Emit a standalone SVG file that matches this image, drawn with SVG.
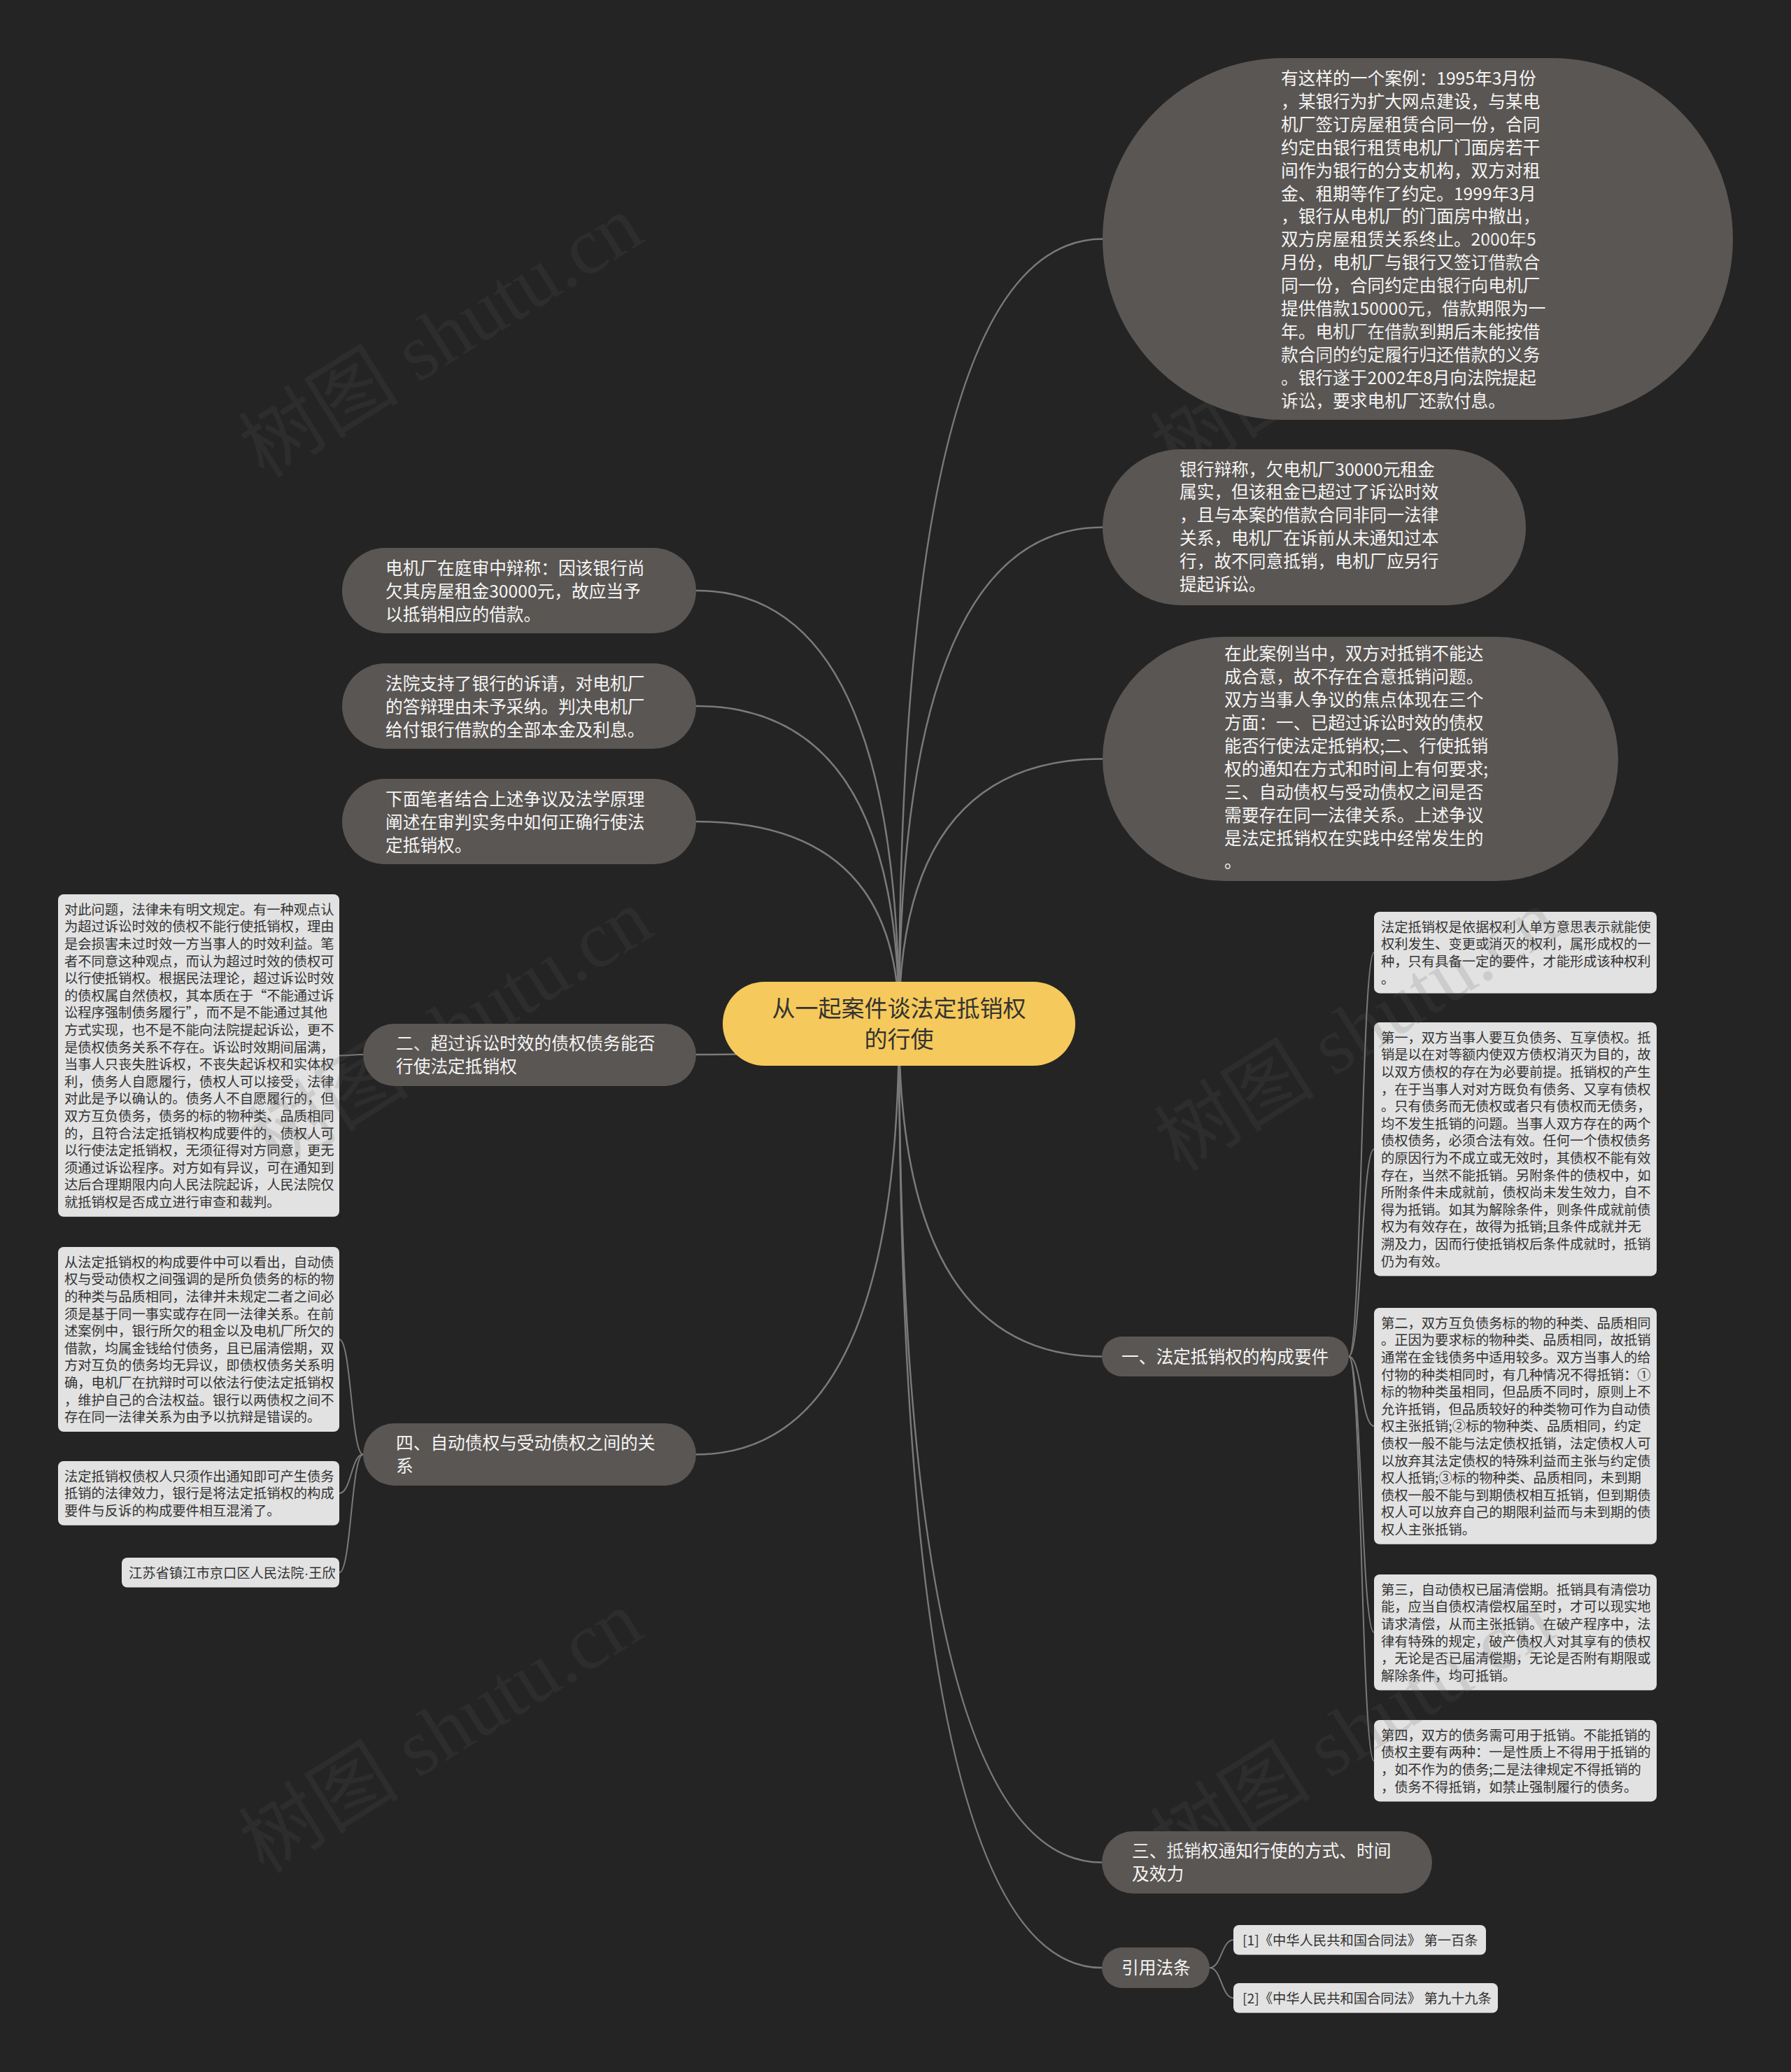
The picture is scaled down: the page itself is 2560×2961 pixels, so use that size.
<svg xmlns="http://www.w3.org/2000/svg" width="2560" height="2961" viewBox="0 0 2560 2961">
<style>
.n{fill:#5a5653}
.nt{font-family:"Noto Sans CJK SC","Noto Sans",sans-serif;font-size:24.7px;fill:#f5f5f5}
.b{fill:#e2e2e2}
.bt{font-family:"Noto Sans CJK SC","Noto Sans",sans-serif;font-size:19.3px;fill:#333333}
.c{fill:none;stroke:#7a7a7a;stroke-width:2.5}
.s{fill:none;stroke:#7a7a7a;stroke-width:2}
.wm{font-family:"Liberation Serif","Noto Sans CJK SC",serif;font-size:115px;fill:#5c5c5c;opacity:0.16}
</style>
<rect x="0" y="0" width="2560" height="2961" fill="#242424"/>
<g id="connectors">
<path class="c" d="M1285,1463 Q1285,341.5 1576,341.5"/>
<path class="c" d="M1285,1463 Q1285,753.5 1576,753.5"/>
<path class="c" d="M1285,1463 Q1285,1084.5 1576,1084.5"/>
<path class="c" d="M1285,1463 Q1285,844 995,844"/>
<path class="c" d="M1285,1463 Q1285,1009 995,1009"/>
<path class="c" d="M1285,1463 Q1285,1174 995,1174"/>
<path class="c" d="M1285,1463 Q1285,1507 995,1507"/>
<path class="c" d="M1285,1463 Q1285,2078.5 995,2078.5"/>
<path class="c" d="M1285,1463 Q1285,1938.5 1575,1938.5"/>
<path class="c" d="M1285,1463 Q1285,2661.5 1575,2661.5"/>
<path class="c" d="M1285,1463 Q1285,2812 1575,2812"/>
<path class="s" d="M519,1507 C502,1507 502,1508.4 485,1508.4"/>
<path class="s" d="M519,2078.5 C502,2078.5 502,1914 485,1914"/>
<path class="s" d="M519,2078.5 C502,2078.5 502,2134 485,2134"/>
<path class="s" d="M519,2078.5 C502,2078.5 502,2247.3 485,2247.3"/>
<path class="s" d="M1928,1938.5 C1946,1938.5 1946,1361.2 1964,1361.2"/>
<path class="s" d="M1928,1938.5 C1946,1938.5 1946,1642.2 1964,1642.2"/>
<path class="s" d="M1928,1938.5 C1946,1938.5 1946,2037.9 1964,2037.9"/>
<path class="s" d="M1928,1938.5 C1946,1938.5 1946,2332.8 1964,2332.8"/>
<path class="s" d="M1928,1938.5 C1946,1938.5 1946,2516.2 1964,2516.2"/>
<path class="s" d="M1729,2812 C1746,2812 1746,2772.3 1763,2772.3"/>
<path class="s" d="M1729,2812 C1746,2812 1746,2855.3 1763,2855.3"/>
</g>
<g id="center">
<rect x="1033" y="1403" width="504" height="120" rx="60" fill="#f5c95b"/>
<text font-family="Noto Sans CJK SC, Noto Sans, sans-serif" font-size="33" fill="#333333" text-anchor="middle"><tspan x="1285" y="1452.5">从一起案件谈法定抵销权</tspan><tspan x="1285" y="1497">的行使</tspan></text>
</g>
<g id="case">
<rect class="n" x="1576" y="83" width="901" height="517" rx="258.5"/>
<text class="nt"><tspan x="1831" y="121">有这样的一个案例：1995年3月份</tspan><tspan x="1831" y="153.9">，某银行为扩大网点建设，与某电</tspan><tspan x="1831" y="186.8">机厂签订房屋租赁合同一份，合同</tspan><tspan x="1831" y="219.7">约定由银行租赁电机厂门面房若干</tspan><tspan x="1831" y="252.6">间作为银行的分支机构，双方对租</tspan><tspan x="1831" y="285.5">金、租期等作了约定。1999年3月</tspan><tspan x="1831" y="318.4">，银行从电机厂的门面房中撤出，</tspan><tspan x="1831" y="351.3">双方房屋租赁关系终止。2000年5</tspan><tspan x="1831" y="384.2">月份，电机厂与银行又签订借款合</tspan><tspan x="1831" y="417.1">同一份，合同约定由银行向电机厂</tspan><tspan x="1831" y="450">提供借款150000元，借款期限为一</tspan><tspan x="1831" y="482.9">年。电机厂在借款到期后未能按借</tspan><tspan x="1831" y="515.8">款合同的约定履行归还借款的义务</tspan><tspan x="1831" y="548.7">。银行遂于2002年8月向法院提起</tspan><tspan x="1831" y="581.6">诉讼，要求电机厂还款付息。</tspan></text>
</g>
<g id="bank">
<rect class="n" x="1576" y="642" width="605" height="223" rx="111.5"/>
<text class="nt"><tspan x="1686" y="679.5">银行辩称，欠电机厂30000元租金</tspan><tspan x="1686" y="712.4">属实，但该租金已超过了诉讼时效</tspan><tspan x="1686" y="745.3">，且与本案的借款合同非同一法律</tspan><tspan x="1686" y="778.2">关系，电机厂在诉前从未通知过本</tspan><tspan x="1686" y="811.1">行，故不同意抵销，电机厂应另行</tspan><tspan x="1686" y="844">提起诉讼。</tspan></text>
</g>
<g id="focus">
<rect class="n" x="1576" y="910" width="737" height="349" rx="174.5"/>
<text class="nt"><tspan x="1750" y="942.5">在此案例当中，双方对抵销不能达</tspan><tspan x="1750" y="975.6">成合意，故不存在合意抵销问题。</tspan><tspan x="1750" y="1008.7">双方当事人争议的焦点体现在三个</tspan><tspan x="1750" y="1041.8">方面：一、已超过诉讼时效的债权</tspan><tspan x="1750" y="1074.9">能否行使法定抵销权;二、行使抵销</tspan><tspan x="1750" y="1108">权的通知在方式和时间上有何要求;</tspan><tspan x="1750" y="1141.1">三、自动债权与受动债权之间是否</tspan><tspan x="1750" y="1174.2">需要存在同一法律关系。上述争议</tspan><tspan x="1750" y="1207.3">是法定抵销权在实践中经常发生的</tspan><tspan x="1750" y="1240.4">。</tspan></text>
</g>
<g id="factory">
<rect class="n" x="489" y="783" width="506" height="122" rx="61"/>
<text class="nt"><tspan x="551" y="820.5">电机厂在庭审中辩称：因该银行尚</tspan><tspan x="551" y="853.5">欠其房屋租金30000元，故应当予</tspan><tspan x="551" y="886.5">以抵销相应的借款。</tspan></text>
</g>
<g id="court">
<rect class="n" x="489" y="948" width="506" height="122" rx="61"/>
<text class="nt"><tspan x="551" y="985.6">法院支持了银行的诉请，对电机厂</tspan><tspan x="551" y="1018.6">的答辩理由未予采纳。判决电机厂</tspan><tspan x="551" y="1051.6">给付银行借款的全部本金及利息。</tspan></text>
</g>
<g id="author">
<rect class="n" x="489" y="1113" width="506" height="122" rx="61"/>
<text class="nt"><tspan x="551" y="1150.6">下面笔者结合上述争议及法学原理</tspan><tspan x="551" y="1183.6">阐述在审判实务中如何正确行使法</tspan><tspan x="551" y="1216.6">定抵销权。</tspan></text>
</g>
<g id="sec2">
<rect class="n" x="519" y="1463" width="476" height="89" rx="44.5"/>
<text class="nt"><tspan x="566" y="1500">二、超过诉讼时效的债权债务能否</tspan><tspan x="566" y="1533">行使法定抵销权</tspan></text>
</g>
<g id="sec2-text">
<rect class="b" x="83" y="1278" width="402" height="460.8" rx="8"/>
<text class="bt"><tspan x="92" y="1306.7">对此问题，法律未有明文规定。有一种观点认</tspan><tspan x="92" y="1331.3">为超过诉讼时效的债权不能行使抵销权，理由</tspan><tspan x="92" y="1355.9">是会损害未过时效一方当事人的时效利益。笔</tspan><tspan x="92" y="1380.5">者不同意这种观点，而认为超过时效的债权可</tspan><tspan x="92" y="1405.1">以行使抵销权。根据民法理论，超过诉讼时效</tspan><tspan x="92" y="1429.7">的债权属自然债权，其本质在于“不能通过诉</tspan><tspan x="92" y="1454.3">讼程序强制债务履行”，而不是不能通过其他</tspan><tspan x="92" y="1478.9">方式实现，也不是不能向法院提起诉讼，更不</tspan><tspan x="92" y="1503.5">是债权债务关系不存在。诉讼时效期间届满，</tspan><tspan x="92" y="1528.1">当事人只丧失胜诉权，不丧失起诉权和实体权</tspan><tspan x="92" y="1552.7">利，债务人自愿履行，债权人可以接受，法律</tspan><tspan x="92" y="1577.3">对此是予以确认的。债务人不自愿履行的，但</tspan><tspan x="92" y="1601.9">双方互负债务，债务的标的物种类、品质相同</tspan><tspan x="92" y="1626.5">的，且符合法定抵销权构成要件的，债权人可</tspan><tspan x="92" y="1651.1">以行使法定抵销权，无须征得对方同意，更无</tspan><tspan x="92" y="1675.7">须通过诉讼程序。对方如有异议，可在通知到</tspan><tspan x="92" y="1700.3">达后合理期限内向人民法院起诉，人民法院仅</tspan><tspan x="92" y="1724.9">就抵销权是否成立进行审查和裁判。</tspan></text>
</g>
<g id="sec4">
<rect class="n" x="519" y="2034" width="476" height="89" rx="44.5"/>
<text class="nt"><tspan x="566" y="2071">四、自动债权与受动债权之间的关</tspan><tspan x="566" y="2104">系</tspan></text>
</g>
<g id="sec4-text1">
<rect class="b" x="83" y="1782" width="402" height="264" rx="8"/>
<text class="bt"><tspan x="92" y="1810.7">从法定抵销权的构成要件中可以看出，自动债</tspan><tspan x="92" y="1835.3">权与受动债权之间强调的是所负债务的标的物</tspan><tspan x="92" y="1859.9">的种类与品质相同，法律并未规定二者之间必</tspan><tspan x="92" y="1884.5">须是基于同一事实或存在同一法律关系。在前</tspan><tspan x="92" y="1909.1">述案例中，银行所欠的租金以及电机厂所欠的</tspan><tspan x="92" y="1933.7">借款，均属金钱给付债务，且已届清偿期，双</tspan><tspan x="92" y="1958.3">方对互负的债务均无异议，即债权债务关系明</tspan><tspan x="92" y="1982.9">确，电机厂在抗辩时可以依法行使法定抵销权</tspan><tspan x="92" y="2007.5">，维护自己的合法权益。银行以两债权之间不</tspan><tspan x="92" y="2032.1">存在同一法律关系为由予以抗辩是错误的。</tspan></text>
</g>
<g id="sec4-text2">
<rect class="b" x="83" y="2088" width="402" height="91.8" rx="8"/>
<text class="bt"><tspan x="92" y="2116.7">法定抵销权债权人只须作出通知即可产生债务</tspan><tspan x="92" y="2141.3">抵销的法律效力，银行是将法定抵销权的构成</tspan><tspan x="92" y="2165.9">要件与反诉的构成要件相互混淆了。</tspan></text>
</g>
<g id="sec4-author">
<rect class="b" x="174" y="2226" width="311" height="42.6" rx="8"/>
<text class="bt" x="184" y="2254.7">江苏省镇江市京口区人民法院<tspan font-family="Liberation Sans, sans-serif">·</tspan>王欣</text>
</g>
<g id="sec1">
<rect class="n" x="1575" y="1910" width="353" height="57" rx="28.5"/>
<text class="nt"><tspan x="1603" y="1947.5">一、法定抵销权的构成要件</tspan></text>
</g>
<g id="sec1-def">
<rect class="b" x="1964" y="1303" width="404" height="116.4" rx="8"/>
<text class="bt"><tspan x="1974" y="1331.7">法定抵销权是依据权利人单方意思表示就能使</tspan><tspan x="1974" y="1356.3">权利发生、变更或消灭的权利，属形成权的一</tspan><tspan x="1974" y="1380.9">种，只有具备一定的要件，才能形成该种权利</tspan><tspan x="1974" y="1405.5">。</tspan></text>
</g>
<g id="sec1-first">
<rect class="b" x="1964" y="1461" width="404" height="362.4" rx="8"/>
<text class="bt"><tspan x="1974" y="1489.7">第一，双方当事人要互负债务、互享债权。抵</tspan><tspan x="1974" y="1514.3">销是以在对等额内使双方债权消灭为目的，故</tspan><tspan x="1974" y="1538.9">以双方债权的存在为必要前提。抵销权的产生</tspan><tspan x="1974" y="1563.5">，在于当事人对对方既负有债务、又享有债权</tspan><tspan x="1974" y="1588.1">。只有债务而无债权或者只有债权而无债务，</tspan><tspan x="1974" y="1612.7">均不发生抵销的问题。当事人双方存在的两个</tspan><tspan x="1974" y="1637.3">债权债务，必须合法有效。任何一个债权债务</tspan><tspan x="1974" y="1661.9">的原因行为不成立或无效时，其债权不能有效</tspan><tspan x="1974" y="1686.5">存在，当然不能抵销。另附条件的债权中，如</tspan><tspan x="1974" y="1711.1">所附条件未成就前，债权尚未发生效力，自不</tspan><tspan x="1974" y="1735.7">得为抵销。如其为解除条件，则条件成就前债</tspan><tspan x="1974" y="1760.3">权为有效存在，故得为抵销;且条件成就并无</tspan><tspan x="1974" y="1784.9">溯及力，因而行使抵销权后条件成就时，抵销</tspan><tspan x="1974" y="1809.5">仍为有效。</tspan></text>
</g>
<g id="sec1-second">
<rect class="b" x="1964" y="1869" width="404" height="337.8" rx="8"/>
<text class="bt"><tspan x="1974" y="1897.7">第二，双方互负债务标的物的种类、品质相同</tspan><tspan x="1974" y="1922.3">。正因为要求标的物种类、品质相同，故抵销</tspan><tspan x="1974" y="1946.9">通常在金钱债务中适用较多。双方当事人的给</tspan><tspan x="1974" y="1971.5">付物的种类相同时，有几种情况不得抵销：①</tspan><tspan x="1974" y="1996.1">标的物种类虽相同，但品质不同时，原则上不</tspan><tspan x="1974" y="2020.7">允许抵销，但品质较好的种类物可作为自动债</tspan><tspan x="1974" y="2045.3">权主张抵销;②标的物种类、品质相同，约定</tspan><tspan x="1974" y="2069.9">债权一般不能与法定债权抵销，法定债权人可</tspan><tspan x="1974" y="2094.5">以放弃其法定债权的特殊利益而主张与约定债</tspan><tspan x="1974" y="2119.1">权人抵销;③标的物种类、品质相同，未到期</tspan><tspan x="1974" y="2143.7">债权一般不能与到期债权相互抵销，但到期债</tspan><tspan x="1974" y="2168.3">权人可以放弃自己的期限利益而与未到期的债</tspan><tspan x="1974" y="2192.9">权人主张抵销。</tspan></text>
</g>
<g id="sec1-third">
<rect class="b" x="1964" y="2250" width="404" height="165.6" rx="8"/>
<text class="bt"><tspan x="1974" y="2278.7">第三，自动债权已届清偿期。抵销具有清偿功</tspan><tspan x="1974" y="2303.3">能，应当自债权清偿权届至时，才可以现实地</tspan><tspan x="1974" y="2327.9">请求清偿，从而主张抵销。在破产程序中，法</tspan><tspan x="1974" y="2352.5">律有特殊的规定，破产债权人对其享有的债权</tspan><tspan x="1974" y="2377.1">，无论是否已届清偿期，无论是否附有期限或</tspan><tspan x="1974" y="2401.7">解除条件，均可抵销。</tspan></text>
</g>
<g id="sec1-fourth">
<rect class="b" x="1964" y="2458" width="404" height="116.4" rx="8"/>
<text class="bt"><tspan x="1974" y="2486.7">第四，双方的债务需可用于抵销。不能抵销的</tspan><tspan x="1974" y="2511.3">债权主要有两种：一是性质上不得用于抵销的</tspan><tspan x="1974" y="2535.9">，如不作为的债务;二是法律规定不得抵销的</tspan><tspan x="1974" y="2560.5">，债务不得抵销，如禁止强制履行的债务。</tspan></text>
</g>
<g id="sec3">
<rect class="n" x="1575" y="2617" width="472" height="89" rx="44.5"/>
<text class="nt"><tspan x="1618" y="2654">三、抵销权通知行使的方式、时间</tspan><tspan x="1618" y="2687">及效力</tspan></text>
</g>
<g id="laws">
<rect class="n" x="1575" y="2783" width="154" height="58" rx="29"/>
<text class="nt"><tspan x="1603" y="2821">引用法条</tspan></text>
</g>
<g id="law1">
<rect class="b" x="1763" y="2751" width="361" height="42.6" rx="8"/>
<text class="bt"><tspan x="1776" y="2779.7">[1]《中华人民共和国合同法》 第一百条</tspan></text>
</g>
<g id="law2">
<rect class="b" x="1763" y="2834" width="378" height="42.6" rx="8"/>
<text class="bt"><tspan x="1776" y="2862.7">[2]《中华人民共和国合同法》 第九十九条</tspan></text>
</g>
<g id="watermarks">
<text class="wm" text-anchor="middle" transform="translate(651,514) rotate(-32)">树图 shutu.cn</text>
<text class="wm" text-anchor="middle" transform="translate(1954,514) rotate(-32)">树图 shutu.cn</text>
<text class="wm" text-anchor="middle" transform="translate(665,1505) rotate(-32)">树图 shutu.cn</text>
<text class="wm" text-anchor="middle" transform="translate(1960,1505) rotate(-32)">树图 shutu.cn</text>
<text class="wm" text-anchor="middle" transform="translate(651,2508) rotate(-32)">树图 shutu.cn</text>
<text class="wm" text-anchor="middle" transform="translate(1954,2508) rotate(-32)">树图 shutu.cn</text>
</g>
</svg>
